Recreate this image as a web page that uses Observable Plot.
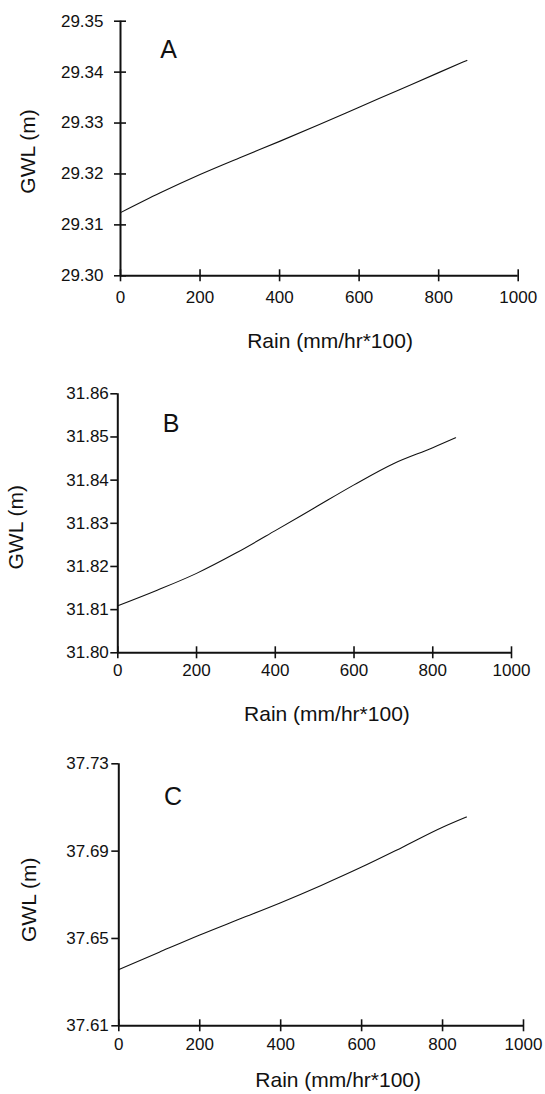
<!DOCTYPE html>
<html>
<head>
<meta charset="utf-8">
<script src="https://cdn.jsdelivr.net/npm/d3@7"></script>
<script src="https://cdn.jsdelivr.net/npm/@observablehq/plot@0.6"></script>
<style>
html, body { margin: 0; padding: 0; background: #fff; }
#chart { width: 545px; }
#chart svg { display: block; }
</style>
</head>
<body>
<div id="chart"></div>
<script>
// ---- Data ----
const xTicks = [0, 200, 400, 600, 800, 1000];
const xTitle = "Rain (mm/hr*100)";
const yTitle = "GWL (m)";
const panelLetters = ["A", "B", "C"];

const rainA = [0, 100, 200, 300, 400, 500, 600, 700, 800, 871];
const gwlA  = [29.3124, 29.3163, 29.3199, 29.3232, 29.3264, 29.3297, 29.3331, 29.3365, 29.3399, 29.3423];
const yTicksA = [29.30, 29.31, 29.32, 29.33, 29.34, 29.35];

const rainB = [0, 100, 200, 300, 400, 500, 600, 700, 800, 858];
const gwlB  = [31.8109, 31.8145, 31.8184, 31.8231, 31.8283, 31.8336, 31.8389, 31.8438, 31.8475, 31.8498];
const yTicksB = [31.80, 31.81, 31.82, 31.83, 31.84, 31.85, 31.86];

const rainC = [0, 100, 200, 300, 400, 500, 600, 700, 800, 859];
const gwlC  = [37.6357, 37.6437, 37.6516, 37.6590, 37.6664, 37.6743, 37.6827, 37.6917, 37.7009, 37.7056];
const yTicksC = [37.61, 37.65, 37.69, 37.73];

// ---- Layout (positions/styles, not data) ----
const layouts = [
  {height: 365, mt: 20.7, mb: 89.7, ml: 120, mr: 27.3, xPad: 15.6, yPad: 17, yTick: 12, yTickDx: 6,
   letterDx: 48, letterDy: 28.3, xtDx: 10.7, xtDy: 65.7, ytX: 28, ytDy: 3},
  {height: 365, mt: 28.3, mb: 77.7, ml: 117.3, mr: 34, xPad: 11.6, yPad: 9, yTick: 7, yTickDx: 0,
   letterDx: 53.2, letterDy: 29.7, xtDx: 12.3, xtDy: 61, ytX: 15.8, ytDy: 4},
  {height: 364, mt: 33.3, mb: 68.7, ml: 118.3, mr: 22, xPad: 11.9, yPad: 10, yTick: 7, yTickDx: 0,
   letterDx: 54.2, letterDy: 32.7, xtDx: 17, xtDy: 54.7, ytX: 29.2, ytDy: 5}
];

const panels = [
  {rain: rainA, gwl: gwlA, yTicks: yTicksA, letter: panelLetters[0]},
  {rain: rainB, gwl: gwlB, yTicks: yTicksB, letter: panelLetters[1]},
  {rain: rainC, gwl: gwlC, yTicks: yTicksC, letter: panelLetters[2]}
];

const font = "'Liberation Sans', Arial, Helvetica, sans-serif";
const fmtY = d3.format(".2f");
const fmtX = d3.format("d");

const chart = document.getElementById("chart");

panels.forEach((p, i) => {
  const L = layouts[i];
  const data = p.rain.map((r, j) => ({rain: r, gwl: p.gwl[j]}));
  const yLo = p.yTicks[0], yHi = p.yTicks[p.yTicks.length - 1];
  const svg = Plot.plot({
    width: 545,
    height: L.height,
    marginTop: L.mt,
    marginBottom: L.mb,
    marginLeft: L.ml,
    marginRight: L.mr,
    style: {fontFamily: font, background: "white", color: "black", overflow: "visible"},
    x: {domain: [0, 1000], axis: null},
    y: {domain: [yLo, yHi], axis: null},
    marks: [
      Plot.ruleX([0], {stroke: "#111", strokeWidth: 2}),
      Plot.ruleY([yLo], {stroke: "#111", strokeWidth: 2}),
      Plot.axisX(xTicks, {tickSize: 12, dy: -6, tickFormat: () => "", label: null, strokeWidth: 1.6, stroke: "#111"}),
      Plot.axisX(xTicks, {tickSize: 0, tickPadding: L.xPad, fontSize: 17, tickFormat: fmtX, label: null, fill: "#111"}),
      Plot.axisY(p.yTicks, {tickSize: L.yTick, dx: L.yTickDx, tickFormat: () => "", label: null, strokeWidth: 1.6, stroke: "#111"}),
      Plot.axisY(p.yTicks, {tickSize: 0, tickPadding: L.yPad, fontSize: 17, tickFormat: fmtY, label: null, fill: "#111"}),
      Plot.line(data, {x: "rain", y: "gwl", curve: "monotone-x", stroke: "#111", strokeWidth: 1.1}),
      Plot.text([p.letter], {text: d => d, frameAnchor: "top-left", dx: L.letterDx, dy: L.letterDy,
        fontSize: 25, textAnchor: "middle", lineAnchor: "middle", fill: "#111"}),
      Plot.text([xTitle], {text: d => d, frameAnchor: "bottom", dx: L.xtDx, dy: L.xtDy,
        fontSize: 21, textAnchor: "middle", lineAnchor: "middle", fill: "#111"}),
      Plot.text([yTitle], {text: d => d, frameAnchor: "left", rotate: -90, dx: L.ytX - L.ml, dy: L.ytDy,
        fontSize: 21, textAnchor: "middle", lineAnchor: "middle", fill: "#111"})
    ]
  });
  chart.appendChild(svg);
});
</script>
</body>
</html>
